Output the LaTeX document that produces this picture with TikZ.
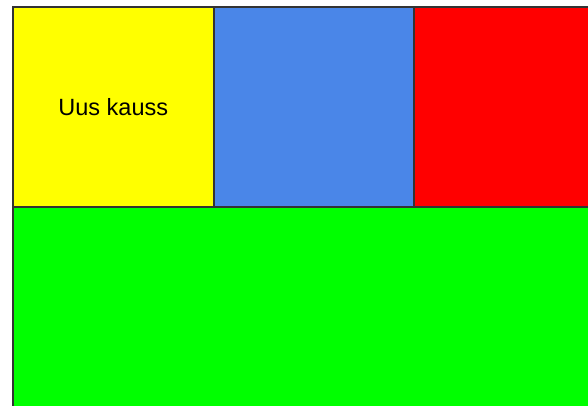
\documentclass[tikz,border=0pt]{standalone}
\usepackage{fontspec}
\setmainfont{Liberation Sans}
\usetikzlibrary{positioning}
\definecolor{boxline}{HTML}{333333}
\definecolor{boxyellow}{HTML}{FFFF00}
\definecolor{boxblue}{HTML}{4A86E8}
\definecolor{boxred}{HTML}{FF0000}
\definecolor{boxgreen}{HTML}{00FF00}
\begin{document}
\begin{tikzpicture}[
  x=1pt, y=-1pt,
  every node/.style={rectangle, draw=boxline, line width=2pt, inner sep=0pt, outer sep=0pt,
    font=\fontsize{23.5}{28}\selectfont},
  square/.style={minimum width=200.5pt, minimum height=200pt},
  wide/.style={minimum width=620pt, minimum height=220pt, anchor=north west}
]
\useasboundingbox (0,0) rectangle (588,406);
\clip (0,0) rectangle (588,406);
\node[square, fill=boxyellow, anchor=north west] (yellow) at (13,7) {Uus kauss};
\node[square, fill=boxblue, right=0pt of yellow] (blue) {};
\node[square, fill=boxred, right=0pt of blue] (red) {};
\node[wide, fill=boxgreen] (green) at (yellow.south west) {};
\end{tikzpicture}
\end{document}
